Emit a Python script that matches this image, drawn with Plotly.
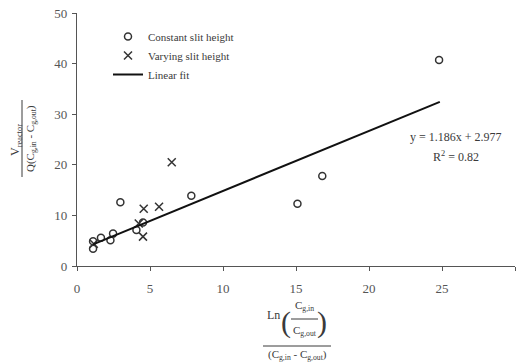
import plotly.graph_objects as go

# ---- data ----
constant_x = [1.1, 1.1, 1.64, 2.29, 2.47, 2.97, 4.07, 4.52, 7.83, 15.1, 16.8, 24.8]
constant_y = [3.4, 4.9, 5.6, 5.1, 6.4, 12.6, 7.1, 8.6, 13.9, 12.3, 17.8, 40.7]

varying_x = [1.15, 4.23, 4.52, 4.57, 5.62, 6.49]
varying_y = [4.4, 8.4, 5.8, 11.3, 11.7, 20.5]

fit_slope = 1.186
fit_intercept = 2.977
fit_x = [1.1, 24.85]
fit_y = [fit_slope * v + fit_intercept for v in fit_x]

x_ticks = [0, 5, 10, 15, 20, 25, 30]
y_ticks = [0, 10, 20, 30, 40, 50]

FONT = "Liberation Serif"
TXT = "#3a3a3a"
AX = "#555555"

W, H = 521, 363
L, R, T, B = 77, 6, 13, 97
PW, PH = W - L - R, H - T - B


def px(xp, yp):
    return (xp - L) / PW, (H - B - yp) / PH


fig = go.Figure()
fig.add_trace(go.Scatter(
    x=constant_x, y=constant_y, mode="markers", name="Constant slit height",
    marker=dict(symbol="circle-open", size=7, color="#333333", line=dict(width=1.5)),
))
fig.add_trace(go.Scatter(
    x=varying_x, y=varying_y, mode="markers", name="Varying slit height",
    marker=dict(symbol="x-thin-open", size=8, color="#333333", line=dict(width=1.5)),
))
fig.add_trace(go.Scatter(
    x=fit_x, y=fit_y, mode="lines", name="Linear fit",
    line=dict(color="#111111", width=2),
))

annotations = []
shapes = []


def ann(text, xp, yp, size=12, angle=0):
    ax_, ay_ = px(xp, yp)
    annotations.append(dict(
        text=text, x=ax_, y=ay_, xref="paper", yref="paper", showarrow=False,
        xanchor="center", yanchor="middle", textangle=angle,
        font=dict(family=FONT, size=size, color=TXT),
    ))


def hline(x0, x1, yp):
    a0, b0 = px(x0, yp)
    a1, _ = px(x1, yp)
    shapes.append(dict(type="line", xref="paper", yref="paper", x0=a0, x1=a1, y0=b0, y1=b0,
                       line=dict(color=TXT, width=1)))


def vline(xp, y0, y1):
    a0, b0 = px(xp, y0)
    _, b1 = px(xp, y1)
    shapes.append(dict(type="line", xref="paper", yref="paper", x0=a0, x1=a0, y0=b0, y1=b1,
                       line=dict(color=TXT, width=1)))


# equation
ann("y = 1.186x + 2.977", 456, 137, size=12)
ann("R<sup>2</sup> = 0.82", 456, 156, size=12)

# x axis title (fraction)
ann("Ln", 273, 315, size=12)
ann("(", 286, 322, size=30)
ann(")", 322, 322, size=30)
ann("C<sub>g,in</sub>", 304, 306, size=11)
hline(291, 318, 319)
ann("C<sub>g,out</sub>", 305, 331, size=11)
hline(263, 331, 346)
ann("(C<sub>g,in</sub> - C<sub>g,out</sub>)", 297, 355, size=11)

# y axis title (fraction, rotated)
ann("V<sub>reactor</sub>", 16, 140, size=12, angle=-90)
vline(22, 100, 177)
ann("Q(C<sub>g,in</sub> - C<sub>g,out</sub>)", 31, 139, size=11, angle=-90)

axis_common = dict(
    showgrid=False, zeroline=False, showline=True, linecolor=AX, linewidth=1.3,
    ticks="outside", ticklen=4, tickcolor=AX, tickwidth=1.3,
    tickfont=dict(family=FONT, size=13, color="#555555"),
)

lx, ly = px(108, 22)
fig.update_layout(
    width=W, height=H,
    margin=dict(l=L, r=R, t=T, b=B),
    paper_bgcolor="white", plot_bgcolor="white",
    xaxis=dict(range=[0, 30], tickvals=x_ticks, ticklabelstandoff=6, **axis_common),
    yaxis=dict(range=[0, 50], tickvals=y_ticks, ticklabelstandoff=2, **axis_common),
    legend=dict(x=lx, y=ly, xanchor="left", yanchor="top", bgcolor="rgba(0,0,0,0)",
                font=dict(family=FONT, size=11, color=TXT), tracegroupgap=0, itemwidth=30),
    annotations=annotations,
    shapes=shapes,
    showlegend=True,
)

fig.write_html(
    "out.html",
    config={"displayModeBar": False},
    post_script="document.body.style.margin='0';document.body.style.overflow='hidden';",
)
